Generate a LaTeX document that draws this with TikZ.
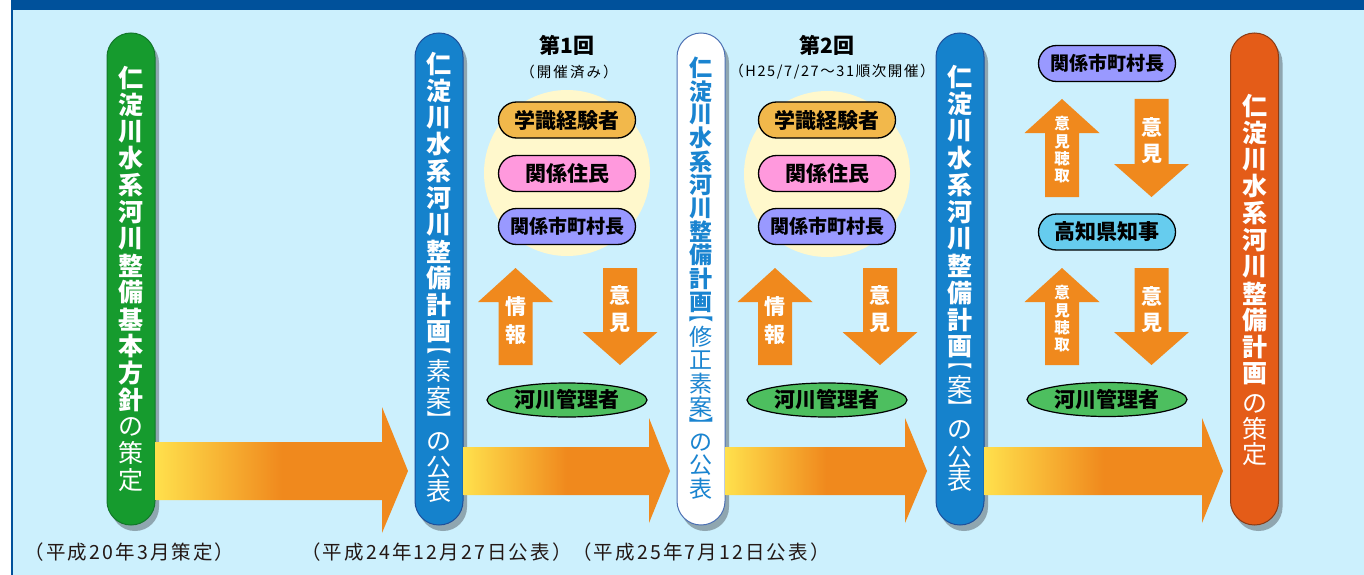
\documentclass[tikz,border=0pt]{standalone}
\usepackage{fontspec}
\setmainfont{Noto Sans CJK JP}
\usetikzlibrary{shadows,shapes.geometric}
\definecolor{bg}{HTML}{CCF0FD}
\definecolor{topbar}{HTML}{00519B}
\definecolor{bgreen}{HTML}{169B2E}
\definecolor{bgreenD}{HTML}{12772A}
\definecolor{bblue}{HTML}{1582CC}
\definecolor{bblueD}{HTML}{1D4F9A}
\definecolor{wborder}{HTML}{4C70B3}
\definecolor{wtext}{HTML}{1A84D0}
\definecolor{borange}{HTML}{E45C18}
\definecolor{borangeD}{HTML}{8A3A14}
\definecolor{shadowc}{HTML}{8FA6B0}
\definecolor{cream}{HTML}{FFF8CC}
\definecolor{pgold}{HTML}{F2B84B}
\definecolor{ppink}{HTML}{FF99DD}
\definecolor{ppurple}{HTML}{9999FF}
\definecolor{pcyan}{HTML}{66CCEE}
\definecolor{mgreen}{HTML}{4DBF5F}
\definecolor{org}{HTML}{F0891D}
\definecolor{ylw}{HTML}{FFE04C}
\definecolor{lbl}{HTML}{231815}
\pgfdeclarehorizontalshading{bigarrow}{100bp}{color(0bp)=(ylw); color(25bp)=(ylw); color(50bp)=(org); color(100bp)=(org)}
\newcommand{\vchars}[6]{\foreach \c [count=\i] in {#6}{\node[#5] (#1\i) at (#2,{#3+(\i-1)*#4}) {\c};}}
\newcommand{\vpairs}[4]{\foreach \c/\yy [count=\i] in {#4}{\node[#3] (#1\i) at (#2,\yy) {\c};}}
\newcommand{\vbr}[1]{{\fontsize{17}{17}\selectfont\scalebox{1.45}[1]{#1}}}
\newcommand{\blockup}[3]{\fill[org] (#1-17,#3) -- (#1-17,#2+34) -- (#1-37.5,#2+34) -- (#1,#2) -- (#1+37.5,#2+34) -- (#1+17,#2+34) -- (#1+17,#3) -- cycle;}
\newcommand{\blockdown}[3]{\fill[org] (#1-17,#2) -- (#1+17,#2) -- (#1+17,#3-33) -- (#1+37.5,#3-33) -- (#1,#3) -- (#1-37.5,#3-33) -- (#1-17,#3-33) -- cycle;}
\tikzset{
  bar/.style={rectangle, minimum width=48pt, minimum height=492pt, rounded corners=23.9pt, line width=1pt, inner sep=0,
    drop shadow={shadow xshift=4pt, shadow yshift=-6pt, fill=shadowc, opacity=1}},
  vb/.style={inner sep=0, text=white, font=\fontsize{25}{25}\selectfont\bfseries},
  vr/.style={inner sep=0, text=white, font=\fontsize{25}{25}\selectfont},
  pill/.style={rectangle, rounded corners=18pt, minimum width=137pt, minimum height=36pt, draw=black, line width=1.3pt, inner sep=0, font=\fontsize{21}{21}\selectfont\bfseries},
  mgr/.style={ellipse, minimum width=160pt, minimum height=34pt, fill=mgreen, draw=black, line width=1.2pt, inner sep=0, font=\fontsize{21}{21}\selectfont\bfseries},
  at1/.style={inner sep=0, text=white, font=\fontsize{21}{21}\selectfont\bfseries},
  at2/.style={inner sep=0, text=white, font=\fontsize{15.5}{15.5}\selectfont\bfseries},
  datelbl/.style={inner sep=0, text=lbl, font=\fontsize{19.5}{19.5}\selectfont\addfontfeature{LetterSpace=11}},
  ttl/.style={inner sep=0, font=\fontsize{21}{21}\selectfont\bfseries},
  sub/.style={inner sep=0, font=\fontsize{14.5}{14.5}\selectfont\addfontfeature{LetterSpace=14}},
}
\begin{document}
\begin{tikzpicture}[x=1pt,y=-1pt]
\useasboundingbox (0,0) rectangle (1364,575);
\fill[white] (0,0) rectangle (1364,575);
\fill[bg] (11,0) rectangle (1364,575);
\fill[topbar] (11,0) rectangle (1364,10);
\draw[topbar, line width=2pt] (12,0) -- (12,575);
% cream circles
\fill[cream] (567,173) circle (83);
\fill[cream] (827,174) circle (83);
% bars
\node[bar, fill=bgreen, draw=bgreenD] (bar1) at (131,279) {};
\node[bar, fill=bblue, draw=bblueD] (bar2) at (439,279) {};
\node[bar, fill=white, draw=wborder] (bar3) at (701,279) {};
\node[bar, fill=bblue, draw=bblueD] (bar4) at (960,279) {};
\node[bar, fill=borange, draw=borangeD] (bar5) at (1254.5,279) {};
% big arrows
\shade[shading=bigarrow] (bar1.east |- 0,442) -- (382,442) -- (382,407) -- (408,471) -- (382,533) -- (382,500) -- (bar1.east |- 0,500) -- cycle;
\shade[shading=bigarrow] (bar2.east |- 0,447) -- (649,447) -- (649,418) -- (670,471) -- (649,523) -- (649,495) -- (bar2.east |- 0,495) -- cycle;
\shade[shading=bigarrow] (bar3.east |- 0,447) -- (905,447) -- (905,418) -- (927,471) -- (905,523) -- (905,495) -- (bar3.east |- 0,495) -- cycle;
\shade[shading=bigarrow] (bar4.east |- 0,447) -- (1202,447) -- (1202,418) -- (1223,471) -- (1202,523) -- (1202,495) -- (bar4.east |- 0,495) -- cycle;
% bar texts
\vchars{b1a}{131}{78}{26.8}{vb}{仁,淀,川,水,系,河,川,整,備,基,本,方,針}
\vpairs{b1b}{131}{vr}{の/427,策/453,定/480}
\vchars{b2a}{439}{64}{26.8}{vb}{仁,淀,川,水,系,河,川,整,備,計,画}
\vpairs{b2b}{439}{vr}{\vbr{︻}/351,素/371,案/398,\vbr{︼}/418,の/442,公/467,表/491}
\vchars{b3a}{701}{68}{23.4}{vb,text=wtext,font=\fontsize{23}{23}\selectfont\bfseries}{仁,淀,川,水,系,河,川,整,備,計,画}
\vpairs{b3b}{701}{vr,text=wtext,font=\fontsize{23}{23}\selectfont}{\vbr{︻}/319.5,修/337,正/360.4,素/383.8,案/407.2,\vbr{︼}/424.7,の/442.2,公/465.6,表/489}
\vchars{b4a}{960}{77}{27}{vb}{仁,淀,川,水,系,河,川,整,備,計,画}
\vpairs{b4b}{960}{vr}{\vbr{︻}/366,案/387,\vbr{︼}/406,の/430,公/457,表/480}
\vchars{b5a}{1254.5}{106}{26.8}{vb}{仁,淀,川,水,系,河,川,整,備,計,画}
\vpairs{b5b}{1254.5}{vr}{の/404,策/429,定/454}
% titles
\node[ttl] (t1) at (567,45) {第1回};
\node[sub] (s1) at (569,72) {（開催済み）};
\node[ttl] (t2) at (827,45) {第2回};
\node[sub, font=\fontsize{14.5}{14.5}\selectfont\addfontfeature{LetterSpace=11}] (s2) at (832,72) {（H25/7/27～31順次開催）};
% pills
\node[pill, fill=pgold] (p11) at (567,120) {学識経験者};
\node[pill, fill=ppink] (p12) at (567,173.5) {関係住民};
\node[pill, fill=ppurple, font=\fontsize{19}{19}\selectfont\bfseries] (p13) at (567,226.5) {関係市町村長};
\node[pill, fill=pgold] (p21) at (827,120) {学識経験者};
\node[pill, fill=ppink] (p22) at (827,173.5) {関係住民};
\node[pill, fill=ppurple, font=\fontsize{19}{19}\selectfont\bfseries] (p23) at (827,226.5) {関係市町村長};
\node[pill, fill=ppurple, font=\fontsize{19}{19}\selectfont\bfseries] (p31) at (1107,63.5) {関係市町村長};
\node[pill, fill=pcyan] (p32) at (1107,232) {高知県知事};
\node[mgr] (m1) at (567,400) {河川管理者};
\node[mgr] (m2) at (827,400) {河川管理者};
\node[mgr] (m3) at (1107,399.5) {河川管理者};
% small arrows
\blockup{515.5}{268}{365}
\blockdown{620}{268}{365}
\blockup{775}{268}{365}
\blockdown{880}{268}{365}
\blockup{1062}{99}{197}
\blockdown{1151.5}{99}{197}
\blockup{1062}{268}{365}
\blockdown{1151.5}{268}{365}
\vpairs{a1}{515.5}{at1}{情/307,報/335}
\vpairs{a2}{620}{at1}{意/295,見/323}
\vpairs{a3}{775}{at1}{情/307,報/335}
\vpairs{a4}{880}{at1}{意/295,見/323}
\vpairs{a5}{1062}{at2}{意/124,見/141.5,聴/159,取/176.5}
\vpairs{a6}{1151.5}{at1}{意/127,見/154}
\vpairs{a7}{1062}{at2}{意/293,見/310.5,聴/328,取/345.5}
\vpairs{a8}{1151.5}{at1}{意/296,見/323}
% date labels
\node[datelbl] (d1) at (129.5,552) {（平成20年3月策定）};
\node[datelbl] (d2) at (436.5,552) {（平成24年12月27日公表）};
\node[datelbl] (d3) at (701,552) {（平成25年7月12日公表）};
\end{tikzpicture}
\end{document}
